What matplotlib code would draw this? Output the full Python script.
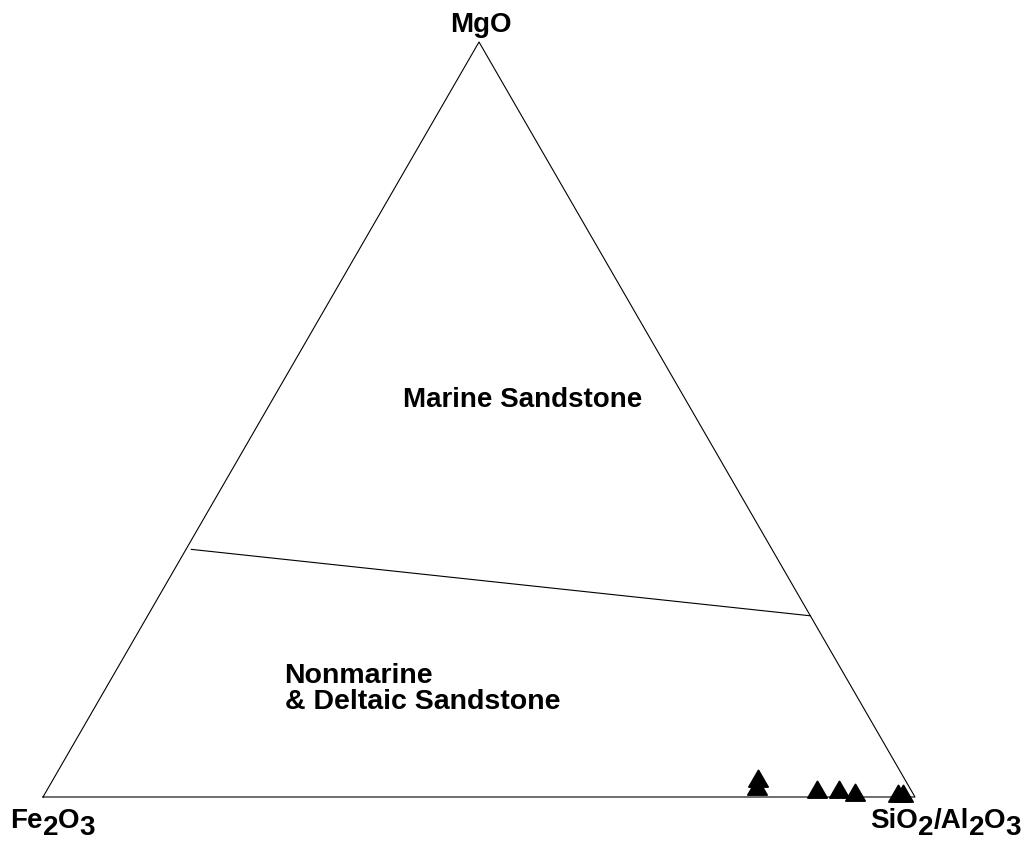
import matplotlib
matplotlib.use('Agg')
import matplotlib.pyplot as plt
import numpy as np

# sample compositions (%): Fe2O3, MgO, SiO2/Al2O3
fe2o3 = [16.9, 17.6, 10.9, 8.4, 6.7, 1.9, 1.3]
mgo = [2.1, 1.0, 0.7, 0.7, 0.3, 0.15, 0.15]
sial = [81.0, 81.4, 88.4, 90.9, 93.0, 97.95, 98.55]

# boundary between marine and nonmarine fields (Fe2O3, MgO, SiO2/Al2O3)
line_fe = [66.6, 0.0]
line_mgo = [32.8, 24.0]
line_sial = [0.6, 76.0]

FONT = 'Liberation Sans'
H = np.sqrt(3) / 2


def tern(fe, mg, sa):
    fe, mg, sa = np.asarray(fe, float), np.asarray(mg, float), np.asarray(sa, float)
    tot = fe + mg + sa
    x = (sa + 0.5 * mg) / tot
    y = H * mg / tot
    return x, y


def rich_label(ax, xy, offset, pieces, size):
    # pieces: list of (text, is_subscript)
    prev = None
    prev_sub = False
    for txt, sub in pieces:
        if prev is None:
            prev = ax.annotate(txt, xy=xy, xytext=offset, textcoords='offset pixels',
                               ha='left', va='baseline', fontsize=size,
                               fontweight='bold', family=FONT, annotation_clip=False)
        else:
            dy = 0
            if sub and not prev_sub:
                dy = -7
            elif prev_sub and not sub:
                dy = 7
            prev = ax.annotate(txt, xy=(1, 0), xycoords=prev, xytext=(0, dy),
                               textcoords='offset pixels', ha='left', va='bottom',
                               fontsize=size, fontweight='bold', family=FONT,
                               annotation_clip=False)
        prev_sub = sub


def main():
    fig = plt.figure(figsize=(10.27, 8.54), dpi=100)
    W, Hp = 1027, 854
    ax = fig.add_axes([43 / W, (854 - 798) / Hp, 872 / W, 755 / Hp])
    ax.set_xlim(0, 1)
    ax.set_ylim(0, H)
    ax.axis('off')

    # outer triangle
    ax.plot([0, 1, 0.5, 0], [0, 0, H, 0], color='black', lw=0.8, clip_on=False)

    # field boundary
    lx, ly = tern(line_fe, line_mgo, line_sial)
    ax.plot(lx, ly, color='black', lw=0.8, clip_on=False)

    # samples
    px, py = tern(fe2o3, mgo, sial)
    ax.plot(px, py, linestyle='none', marker=(3, 0, 0), markersize=16.5,
            color='black', clip_on=False)

    # field labels
    ax.text(0.550, 0.457, 'Marine Sandstone', ha='center', va='center',
            fontsize=20, fontweight='bold', family=FONT)
    ax.text(0.277, 0.125, 'Nonmarine\n& Deltaic Sandstone', ha='left',
            va='center', fontsize=20.5, fontweight='bold', family=FONT,
            linespacing=1.03)

    # vertex labels
    ax.annotate('MgO', xy=(0.5, H), xytext=(2, 11), textcoords='offset pixels',
                ha='center', va='baseline', fontsize=20, fontweight='bold',
                family=FONT, annotation_clip=False)
    rich_label(ax, (0, 0), (-33, -30),
               [('Fe', False), ('2', True), ('O', False), ('3', True)], 20)
    rich_label(ax, (1, 0), (-45, -30),
               [('SiO', False), ('2', True), ('/Al', False), ('2', True),
                ('O', False), ('3', True)], 20)

    fig.savefig('out.png', dpi=100)


if __name__ == '__main__':
    main()
